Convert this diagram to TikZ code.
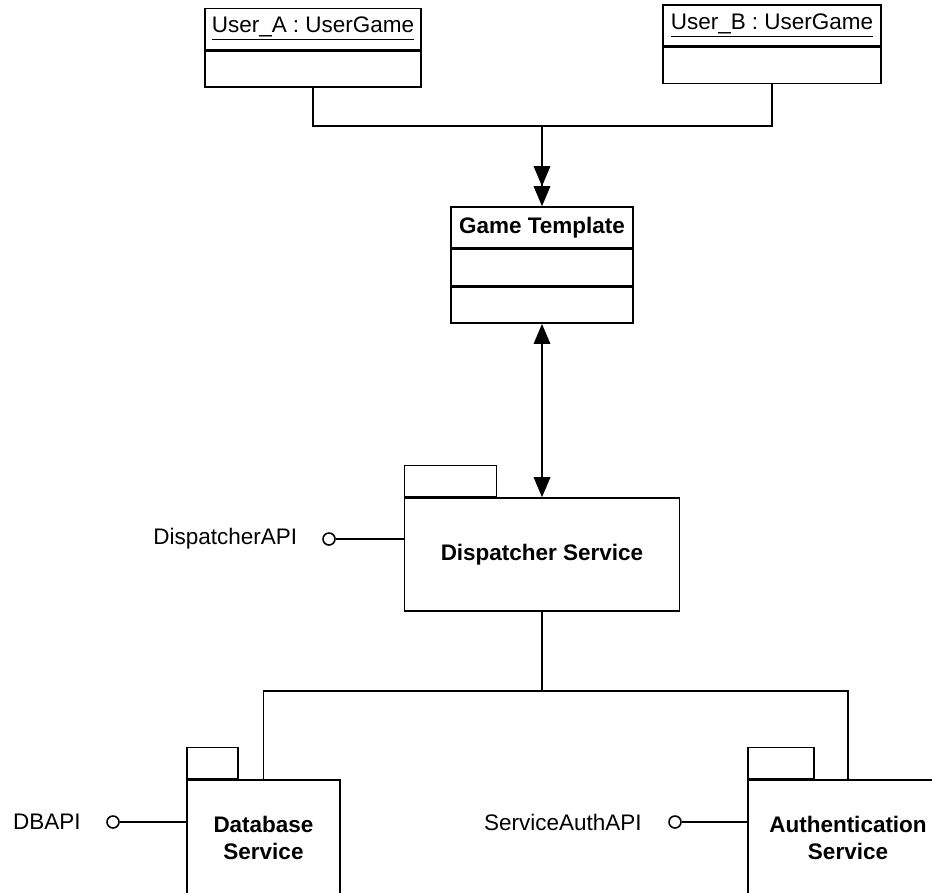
\documentclass[tikz,border=0pt]{standalone}
\usepackage{fontspec}
\setmainfont{Liberation Sans}
\usetikzlibrary{positioning,arrows.meta}

\begin{document}
\begin{tikzpicture}[x=0.02cm,y=-0.02cm,line width=0.9pt,
		>={Triangle[width=0.33cm,length=0.4cm]},
		every node/.style={font=\fontsize{12.8}{15.3}\selectfont},
		classhead/.style={draw,rectangle,inner sep=0pt,minimum height=0.82cm},
		classpart/.style={draw,rectangle,inner sep=0pt,minimum height=0.72cm},
		package/.style={draw,rectangle,align=center,font=\fontsize{12.8}{15.3}\selectfont\bfseries},
		pkgtab/.style={draw,rectangle,inner sep=0pt,minimum height=0.62cm,anchor=south west},
		iface/.style={draw,circle,fill=white,inner sep=0pt,minimum size=0.24cm}]
		\useasboundingbox (0,0) rectangle (932,892);
		\clip (0,0) rectangle (932,892);
		% objects
		\node[classhead,minimum width=4.32cm] (userA) at (313,29) {\underline{User\_A : UserGame}};
		\node[classpart,minimum width=4.32cm,below=0pt of userA] (userAbody) {};
		\node[classhead,minimum width=4.36cm] (userB) at (772,25.5) {\underline{User\_B : UserGame}};
		\node[classpart,minimum width=4.36cm,below=0pt of userB] (userBbody) {};
		\node[classhead,minimum width=3.64cm,font=\fontsize{12.8}{15.3}\selectfont\bfseries] (game) at (542,227.5) {Game Template};
		\node[classpart,minimum width=3.64cm,below=0pt of game] (gameattr) {};
		\node[classpart,minimum width=3.64cm,below=0pt of gameattr] (gameops) {};
		% packages
		\node[package,minimum width=5.5cm,minimum height=2.26cm] (dispatcher) at (542,554.5) {Dispatcher Service};
		\node[pkgtab,minimum width=1.84cm] (dispatchertab) at (dispatcher.north west) {};
		\node[package,minimum width=3.06cm,minimum height=2.32cm] (database) at (263.5,838) {Database\\Service};
		\node[pkgtab,minimum width=1.02cm] (databasetab) at (database.north west) {};
		\node[package,minimum width=4cm,minimum height=2.32cm] (auth) at (848,838) {Authentication\\Service};
		\node[pkgtab,minimum width=1.32cm] (authtab) at (auth.north west) {};
		% interfaces
		\node[iface] (dispatcherapi) at (329,539) {};
		\node[left=0.37cm of dispatcherapi] (dispatcherapilabel) {DispatcherAPI};
		\node[iface] (dbapi) at (113,822) {};
		\node[left=0.38cm of dbapi] (dbapilabel) {DBAPI};
		\node[iface] (authapi) at (675,822) {};
		\node[left=0.4cm of authapi] (authapilabel) {ServiceAuthAPI};
		\draw (dispatcherapi) -- (dispatcherapi -| dispatcher.west);
		\draw (dbapi) -- (dbapi -| database.west);
		\draw (authapi) -- (authapi -| auth.west);
		% connectors
		\coordinate (usersjoin) at (542,126);
		\coordinate (servicesjoin) at (542,691);
		\draw (userAbody.south) |- (usersjoin);
		\draw (userBbody.south) |- (usersjoin);
		\draw[->>] (usersjoin) -- (game.north);
		\draw[<->] (gameops.south) -- (gameops.south |- dispatcher.north);
		\draw (dispatcher.south) -- (servicesjoin);
		\draw (servicesjoin) -| (database.north);
		\draw (servicesjoin) -| (auth.north);
\end{tikzpicture}
\end{document}
